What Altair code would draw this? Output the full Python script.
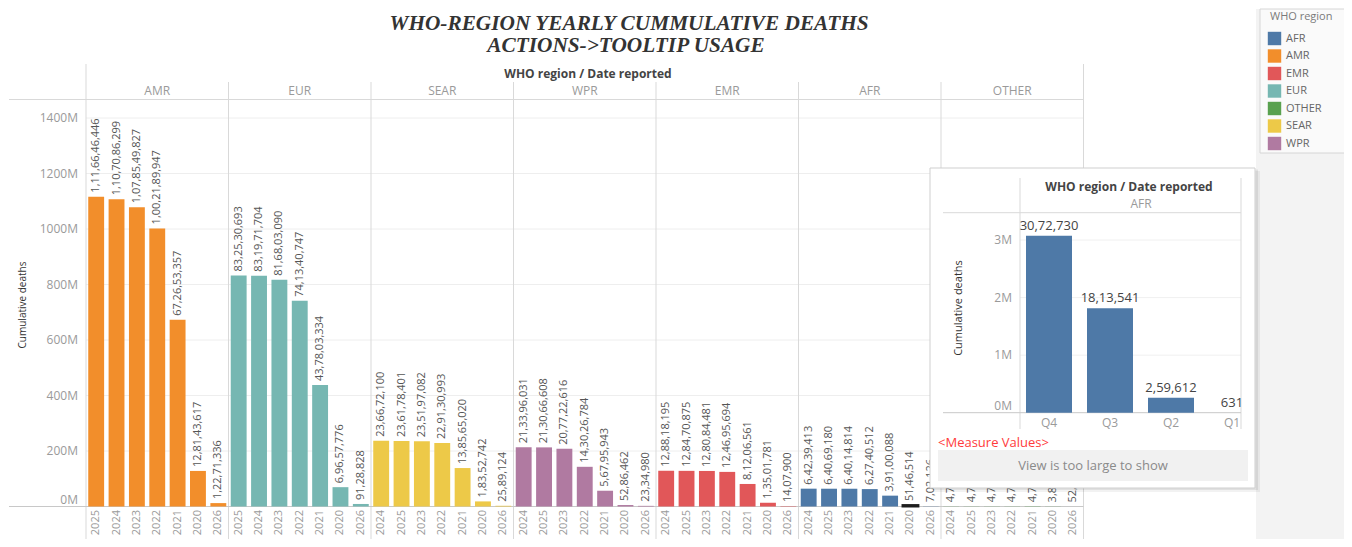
import altair as alt
import pandas as pd

# ---------------- data ----------------
panel_regions = ["AMR", "EUR", "SEAR", "WPR", "EMR", "AFR", "OTHER"]

amr_years = ["2025", "2024", "2023", "2022", "2021", "2020", "2026"]
amr_deaths = [1116646446, 1107086299, 1078549827, 1002189947, 672653357, 128143617, 12271336]
eur_years = ["2025", "2024", "2023", "2022", "2021", "2020", "2026"]
eur_deaths = [832530693, 831971704, 816803090, 741340747, 437803334, 69657776, 9128828]
sear_years = ["2024", "2025", "2023", "2022", "2021", "2020", "2026"]
sear_deaths = [236672100, 236178401, 235197082, 229130993, 138565020, 18352742, 2589124]
wpr_years = ["2024", "2025", "2023", "2022", "2021", "2020", "2026"]
wpr_deaths = [213396031, 213066608, 207722616, 143026784, 56795943, 5286462, 2334980]
emr_years = ["2024", "2025", "2023", "2022", "2021", "2020", "2026"]
emr_deaths = [128818195, 128470875, 128084481, 124695694, 81206561, 13501781, 1407900]
afr_years = ["2024", "2025", "2023", "2022", "2021", "2020", "2026"]
afr_deaths = [64239413, 64069180, 64014814, 62740512, 39100088, 5146514, 702126]
other_years = ["2024", "2025", "2023", "2022", "2021", "2020", "2026"]
other_deaths = [476314, 475982, 475120, 473407, 470215, 384026, 52816]

legend_regions = ["AFR", "AMR", "EMR", "EUR", "OTHER", "SEAR", "WPR"]
legend_colors = ["#4e79a7", "#f28e2b", "#e15759", "#76b7b2", "#59a14f", "#edc948", "#b07aa1"]

y_ticks = [200e6, 400e6, 600e6, 800e6, 1000e6, 1200e6, 1400e6]
y_tick_labels = ["200M", "400M", "600M", "800M", "1000M", "1200M", "1400M"]

tip_region = "AFR"
tip_year = "2020"
tip_quarters = ["Q4", "Q3", "Q2", "Q1"]
tip_deaths = [3072730, 1813541, 259612, 631]
tip_ticks = [1e6, 2e6, 3e6]
tip_tick_labels = ["1M", "2M", "3M"]

title_lines = ["WHO-REGION YEARLY CUMMULATIVE DEATHS", "ACTIONS->TOOLTIP USAGE"]


def indian(n):
    s = str(int(n))
    if len(s) <= 3:
        return s
    last3, rest = s[-3:], s[:-3]
    parts = []
    while len(rest) > 2:
        parts.insert(0, rest[-2:])
        rest = rest[:-2]
    if rest:
        parts.insert(0, rest)
    return ",".join(parts + [last3])


series = {
    "AMR": (amr_years, amr_deaths), "EUR": (eur_years, eur_deaths),
    "SEAR": (sear_years, sear_deaths), "WPR": (wpr_years, wpr_deaths),
    "EMR": (emr_years, emr_deaths), "AFR": (afr_years, afr_deaths),
    "OTHER": (other_years, other_deaths),
}
rows = []
for r in panel_regions:
    yrs, vals = series[r]
    for yv, v in zip(yrs, vals):
        rows.append(dict(region=r, year=yv, value=v, key=f"{r}|{yv}", label=indian(v)))
df = pd.DataFrame(rows)
keys = list(df["key"])
headers = pd.DataFrame({"region": panel_regions, "key": [f"{r}|{series[r][0][3]}" for r in panel_regions]})
tip_df = pd.DataFrame({"q": tip_quarters, "value": tip_deaths, "region": tip_region,
                       "label": [indian(v) for v in tip_deaths]})
legend_df = pd.DataFrame({"region": legend_regions})
ytick_df = pd.DataFrame({"v": y_ticks, "lab": y_tick_labels})
tiptick_df = pd.DataFrame({"v": tip_ticks, "lab": tip_tick_labels})
zero_df = pd.DataFrame({"v": [0], "lab": ["0M"]})
one = pd.DataFrame({"d": [0]})

# ---------------- layout (page coords -> chart coords) ----------------
W, H = 1336, 531
OFF = 8


def px(x):
    return min(max(x - OFF, 0), W)


def py(y):
    return min(max(y - OFF, 0), H)


FONT = "Open Sans"
P0, PW = 85.0, 142.5
main_x = alt.Scale(domain=keys, range=[px(P0), px(P0 + 7 * PW)], paddingInner=0.22, paddingOuter=0.11)
main_y = alt.Scale(domain=[0, 1400e6], range=[py(505.5), py(117)])
color_scale = alt.Scale(domain=legend_regions, range=legend_colors)
tip_x = alt.Scale(domain=tip_quarters, range=[px(1017.5), px(1261.5)], paddingInner=0.246, paddingOuter=0.123)
tip_y = alt.Scale(domain=[0, 3e6], range=[py(411.7), py(239)])
leg_y = alt.Scale(type="point", domain=legend_regions, range=[py(37.5), py(142.5)], padding=0)


def rect(x1, x2, y1, y2, **kw):
    return alt.Chart(one).mark_rect(**kw).encode(
        x=alt.value(px(x1)), x2=alt.value(px(x2)), y=alt.value(py(y1)), y2=alt.value(py(y2)))


def vrule(x, y1, y2, color="#d9d9d9"):
    return alt.Chart(one).mark_rule(color=color, strokeWidth=1).encode(
        x=alt.value(px(x)), y=alt.value(py(y1)), y2=alt.value(py(y2)))


def hrule(y, x1, x2, color="#d9d9d9"):
    return alt.Chart(one).mark_rule(color=color, strokeWidth=1).encode(
        y=alt.value(py(y)), x=alt.value(px(x1)), x2=alt.value(px(x2)))


def label(text, x, y, **kw):
    kw.setdefault("font", FONT)
    return alt.Chart(one).mark_text(text=text, **kw).encode(x=alt.value(px(x)), y=alt.value(py(y)))


layers = []

# right grey strip + legend box
layers.append(rect(1255, 1352, 0, 547, color="#f3f3f3"))
layers.append(rect(1259, 1352, 3, 152, color="#fafafa", stroke="#d6d6d6", strokeWidth=1))

# main gridlines
layers.append(alt.Chart(ytick_df).mark_rule(color="#eeeeee", strokeWidth=1).encode(
    y=alt.Y("v:Q", scale=main_y, axis=None), x=alt.value(px(P0)), x2=alt.value(px(P0 + 7 * PW))))

# panel separators and header line
for i in range(8):
    top = 63 if i in (0, 7) else 81
    layers.append(vrule(P0 + i * PW, top, 539))
layers.append(hrule(98.5, 8, P0 + 7 * PW))

# baseline
layers.append(alt.Chart(zero_df).mark_rule(color="#c8c8c8", strokeWidth=1).encode(
    y=alt.Y("v:Q", scale=main_y, axis=None), x=alt.value(0), x2=alt.value(px(P0 + 7 * PW))))

# bars
bars = alt.Chart(df).mark_bar().encode(
    x=alt.X("key:N", scale=main_x, axis=None),
    y=alt.Y("value:Q", scale=main_y, axis=None),
    color=alt.Color("region:N", scale=color_scale, legend=None),
)
layers.append(bars)
layers.append(alt.Chart(df).transform_filter(
    alt.datum.key == f"{tip_region}|{tip_year}").mark_bar(stroke="#1e1e1e", strokeWidth=2).encode(
    x=alt.X("key:N", scale=main_x, axis=None),
    y=alt.Y("value:Q", scale=main_y, axis=None),
    color=alt.Color("region:N", scale=color_scale, legend=None),
))

# value labels
layers.append(alt.Chart(df).mark_text(angle=270, align="left", baseline="middle", dx=4,
                                      fontSize=11, color="#555555", font=FONT).encode(
    x=alt.X("key:N", scale=main_x, axis=None),
    y=alt.Y("value:Q", scale=main_y, axis=None),
    text="label:N"))

# year tick labels
layers.append(alt.Chart(df).mark_text(angle=270, align="right", baseline="middle",
                                      fontSize=11, color="#9a9a9a", font=FONT).encode(
    x=alt.X("key:N", scale=main_x, axis=None), y=alt.value(py(509)), text="year:N"))

# region headers
layers.append(alt.Chart(headers).mark_text(baseline="middle", fontSize=12, color="#9a9a9a", font=FONT).encode(
    x=alt.X("key:N", scale=main_x, axis=None), y=alt.value(py(90)), text="region:N"))

# y tick labels
layers.append(alt.Chart(ytick_df).mark_text(align="right", baseline="middle", fontSize=12,
                                            color="#9a9a9a", font=FONT).encode(
    y=alt.Y("v:Q", scale=main_y, axis=None), x=alt.value(px(77)), text="lab:N"))
layers.append(alt.Chart(zero_df).mark_text(align="right", baseline="middle", fontSize=12, dy=-7,
                                           color="#9a9a9a", font=FONT).encode(
    y=alt.Y("v:Q", scale=main_y, axis=None), x=alt.value(px(77)), text="lab:N"))

# axis titles and headers
layers.append(label("Cumulative deaths", 22, 304, angle=270, align="center", baseline="middle",
                    fontSize=10, color="#333333"))
layers.append(label("WHO region  /  Date reported", 587, 72.5, align="center", baseline="middle",
                    fontSize=12, fontWeight="bold", color="#444444"))
layers.append(label(title_lines[0], 628, 22.5, align="center", baseline="middle", fontSize=21.3,
                    font="Liberation Serif", fontStyle="italic", fontWeight="bold", color="#333333"))
layers.append(label(title_lines[1], 625, 44.5, align="center", baseline="middle", fontSize=21.3,
                    font="Liberation Serif", fontStyle="italic", fontWeight="bold", color="#333333"))

# ---------------- tooltip box ----------------
layers.append(rect(932, 1259, 170, 491, color="#000000", opacity=0.05))
layers.append(rect(930.5, 1257, 168.5, 489, color="#000000", opacity=0.07))
layers.append(rect(929, 1254, 167, 487, color="#ffffff", stroke="#cfcfcf", strokeWidth=1))

layers.append(alt.Chart(tiptick_df).mark_rule(color="#f0f0f0", strokeWidth=1).encode(
    y=alt.Y("v:Q", scale=tip_y, axis=None), x=alt.value(px(1019)), x2=alt.value(px(1240))))
layers.append(vrule(1019, 177, 428))
layers.append(vrule(1240, 177, 428))
layers.append(hrule(211.7, 942, 1240))
layers.append(alt.Chart(zero_df).mark_rule(color="#c8c8c8", strokeWidth=1).encode(
    y=alt.Y("v:Q", scale=tip_y, axis=None), x=alt.value(px(942)), x2=alt.value(px(1240))))

layers.append(alt.Chart(tip_df).mark_bar().encode(
    x=alt.X("q:N", scale=tip_x, axis=None),
    y=alt.Y("value:Q", scale=tip_y, axis=None),
    color=alt.Color("region:N", scale=color_scale, legend=None)))
layers.append(alt.Chart(tip_df).mark_text(baseline="bottom", dy=-3, fontSize=13, color="#444444",
                                          font=FONT).encode(
    x=alt.X("q:N", scale=tip_x, axis=None),
    y=alt.Y("value:Q", scale=tip_y, axis=None), text="label:N"))
layers.append(alt.Chart(tip_df).mark_text(baseline="middle", fontSize=12, color="#9a9a9a", font=FONT).encode(
    x=alt.X("q:N", scale=tip_x, axis=None), y=alt.value(py(422)), text="q:N"))
layers.append(alt.Chart(tiptick_df).mark_text(align="right", baseline="middle", fontSize=12,
                                              color="#9a9a9a", font=FONT).encode(
    y=alt.Y("v:Q", scale=tip_y, axis=None), x=alt.value(px(1011)), text="lab:N"))
layers.append(alt.Chart(zero_df).mark_text(align="right", baseline="middle", fontSize=12, dy=-7,
                                           color="#9a9a9a", font=FONT).encode(
    y=alt.Y("v:Q", scale=tip_y, axis=None), x=alt.value(px(1011)), text="lab:N"))

layers.append(label("Cumulative deaths", 958, 307, angle=270, align="center", baseline="middle",
                    fontSize=11, color="#333333"))
layers.append(label("WHO region  /  Date reported", 1128, 186, align="center", baseline="middle",
                    fontSize=12, fontWeight="bold", color="#444444"))
layers.append(label(tip_region, 1140, 203, align="center", baseline="middle", fontSize=12, color="#9a9a9a"))
layers.append(label("<Measure Values>", 937, 442, align="left", baseline="middle", fontSize=13,
                    color="#ff3b3b"))
layers.append(rect(937, 1247, 449, 480, color="#f1f1f1"))
layers.append(label("View is too large to show", 1092, 465, align="center", baseline="middle",
                    fontSize=13, color="#8a8a8a"))

# ---------------- legend ----------------
layers.append(label("WHO region", 1269, 16, align="left", baseline="middle", fontSize=11, color="#7a7a7a"))
layers.append(alt.Chart(legend_df).mark_square(size=180, opacity=1).encode(
    y=alt.Y("region:N", scale=leg_y, axis=None), x=alt.value(px(1273.5)),
    color=alt.Color("region:N", scale=color_scale, legend=None)))
layers.append(alt.Chart(legend_df).mark_text(align="left", baseline="middle", fontSize=11,
                                             color="#666666", font=FONT).encode(
    y=alt.Y("region:N", scale=leg_y, axis=None), x=alt.value(px(1285)), text="region:N"))

chart = alt.layer(*layers).resolve_scale(x="independent", y="independent").properties(
    width=W, height=H, padding=0, background="#ffffff",
    autosize=alt.AutoSizeParams(type="fit", contains="padding"),
).configure_view(strokeWidth=0)

chart.save("out.html", embed_options={"renderer": "svg", "actions": False})
